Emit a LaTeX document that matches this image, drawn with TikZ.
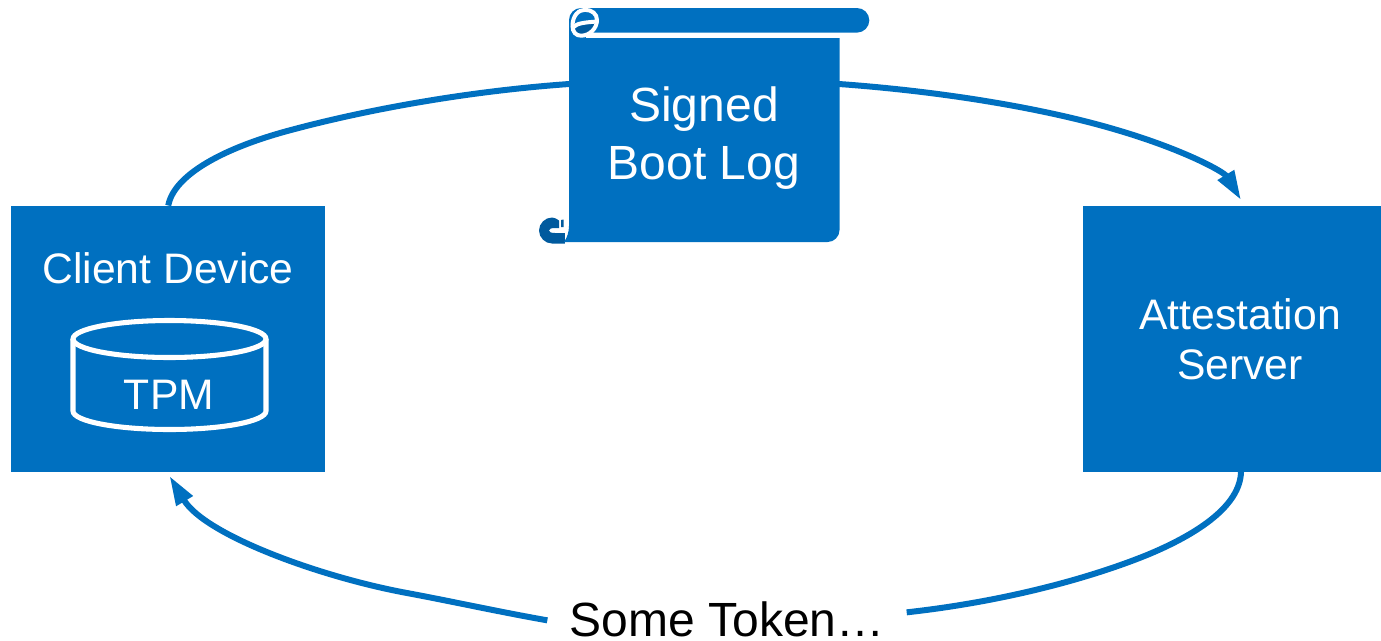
\documentclass[tikz,border=0pt]{standalone}
\usepackage{fontspec}
\setmainfont{Liberation Sans}
\usetikzlibrary{arrows.meta}
\definecolor{mainblue}{HTML}{0070C0}
\definecolor{darkblue}{HTML}{005A9E}
\tikzset{
  x=0.75pt,y=-0.75pt,
  boxnode/.style={fill=mainblue,inner sep=0pt,anchor=north west},
  whitetext/.style={text=white,align=center,inner sep=0pt,font=\fontsize{32}{37.5}\selectfont},
  flow/.style={draw=mainblue,line width=4.5pt},
  flowtip/.style={flow,-{Triangle[length=22pt,width=13.5pt]}},
  curl/.style={draw=white,line width=3pt},
}
\begin{document}
\begin{tikzpicture}
\useasboundingbox (0,0) rectangle (1381,640);
\coordinate (lin) at (569,84);
\coordinate (lout) at (839,84);
\coordinate (srvin) at (1241,200);
\coordinate (srvout) at (1241,472);
\coordinate (clin) at (169.5,476);
% boxes
\node[boxnode,minimum width=235.5pt,minimum height=199.5pt] (client) at (11,205.5) {};
\node[boxnode,minimum width=223.5pt,minimum height=199.5pt] (server) at (1083,205.5) {};
\node[whitetext] (clientlabel) at (168,268) {Client Device};
\node[whitetext] (serverlabel) at (1240,339.5) {Attestation\\Server};
% TPM cylinder
\draw[white,line width=3.8pt] (73,339) -- (73,411) arc[start angle=180,end angle=0,x radius=96.5,y radius=18.5] -- (266,339);
\draw[white,line width=3.8pt] (169.5,339) ellipse[x radius=96.5,y radius=18.5];
\node[whitetext] (tpm) at (169,395) {TPM};
% connectors
\draw[flow] (client.north) .. controls (174,175) and (223,148) .. (291,130) .. controls (358,112) and (458,92) .. (lin);
\draw[flowtip] (lout) .. controls (950,92) and (1050,110) .. (1117,130) .. controls (1185,150) and (1224,172) .. (srvin);
\node[font=\fontsize{36}{42}\selectfont,fill=white,inner xsep=16.5pt,inner ysep=0pt,text=black] (token) at (727,619) {Some Token…};
\draw[flow] (srvout) .. controls (1240,505) and (1200,533) .. (1147,555) .. controls (1085,580) and (1000,602) .. ([yshift=5pt]token.east);
\draw[flowtip] ([yshift=-1pt]token.west) .. controls (500,612) and (450,601) .. (407,593) .. controls (320,577) and (205,535) .. (clin);
% scroll: bottom-left curl, behind the sheet
\fill[darkblue] (559,220.5) .. controls (556,218.5) and (554,217.5) .. (552,217.5) .. controls (545,217.5) and (539,223.5) .. (539,230.5) .. controls (539,237.5) and (545,243.5) .. (552,243.5) -- (566,243.5) -- (569,233) -- (555,233) .. controls (551,233) and (549,232) .. (549,230.5) .. controls (549,229) and (551,228) .. (555,228) -- (559,228) -- cycle;
\fill[darkblue] (561,220) -- (563.5,219.5) -- (563.5,227) -- (561,227) -- cycle;
\fill[white] (565,225) rectangle (572,244);
% scroll: sheet and roll
\fill[mainblue] (590,8) -- (857,8) arc[start angle=-90,end angle=90,radius=12.3] -- (590,32.6) -- cycle;
\fill[mainblue] (569,20) arc[start angle=180,end angle=270,radius=12] -- (590,8) -- (590,38) -- (839.5,38) -- (839.5,230) arc[start angle=0,end angle=90,radius=12] -- (564,242) .. controls (567,238) and (569,232) .. (569,226) -- cycle;
\fill[darkblue] (575,30) .. controls (577,25.5) and (583,24) .. (595,23.5) .. controls (593,29) and (588,34) .. (581,34) .. controls (578,34) and (575,33) .. (575,30) -- cycle;
\draw[curl] (573.5,27) .. controls (577,23.5) and (583,22.5) .. (597,21.5);
\draw[curl] (572.5,26) .. controls (572.5,15) and (579,9.8) .. (585,9.8) .. controls (592,9.8) and (597,14) .. (597,20) .. controls (597,28) and (590,35.7) .. (581,35.7) .. controls (576,35.7) and (572.5,32) .. (572.5,26) -- cycle;
\fill[white] (586,32.6) rectangle (839.5,38);
\node[whitetext,font=\fontsize{36}{43.5}\selectfont] (log) at (704,138) {Signed\\Boot Log};
\end{tikzpicture}
\end{document}
